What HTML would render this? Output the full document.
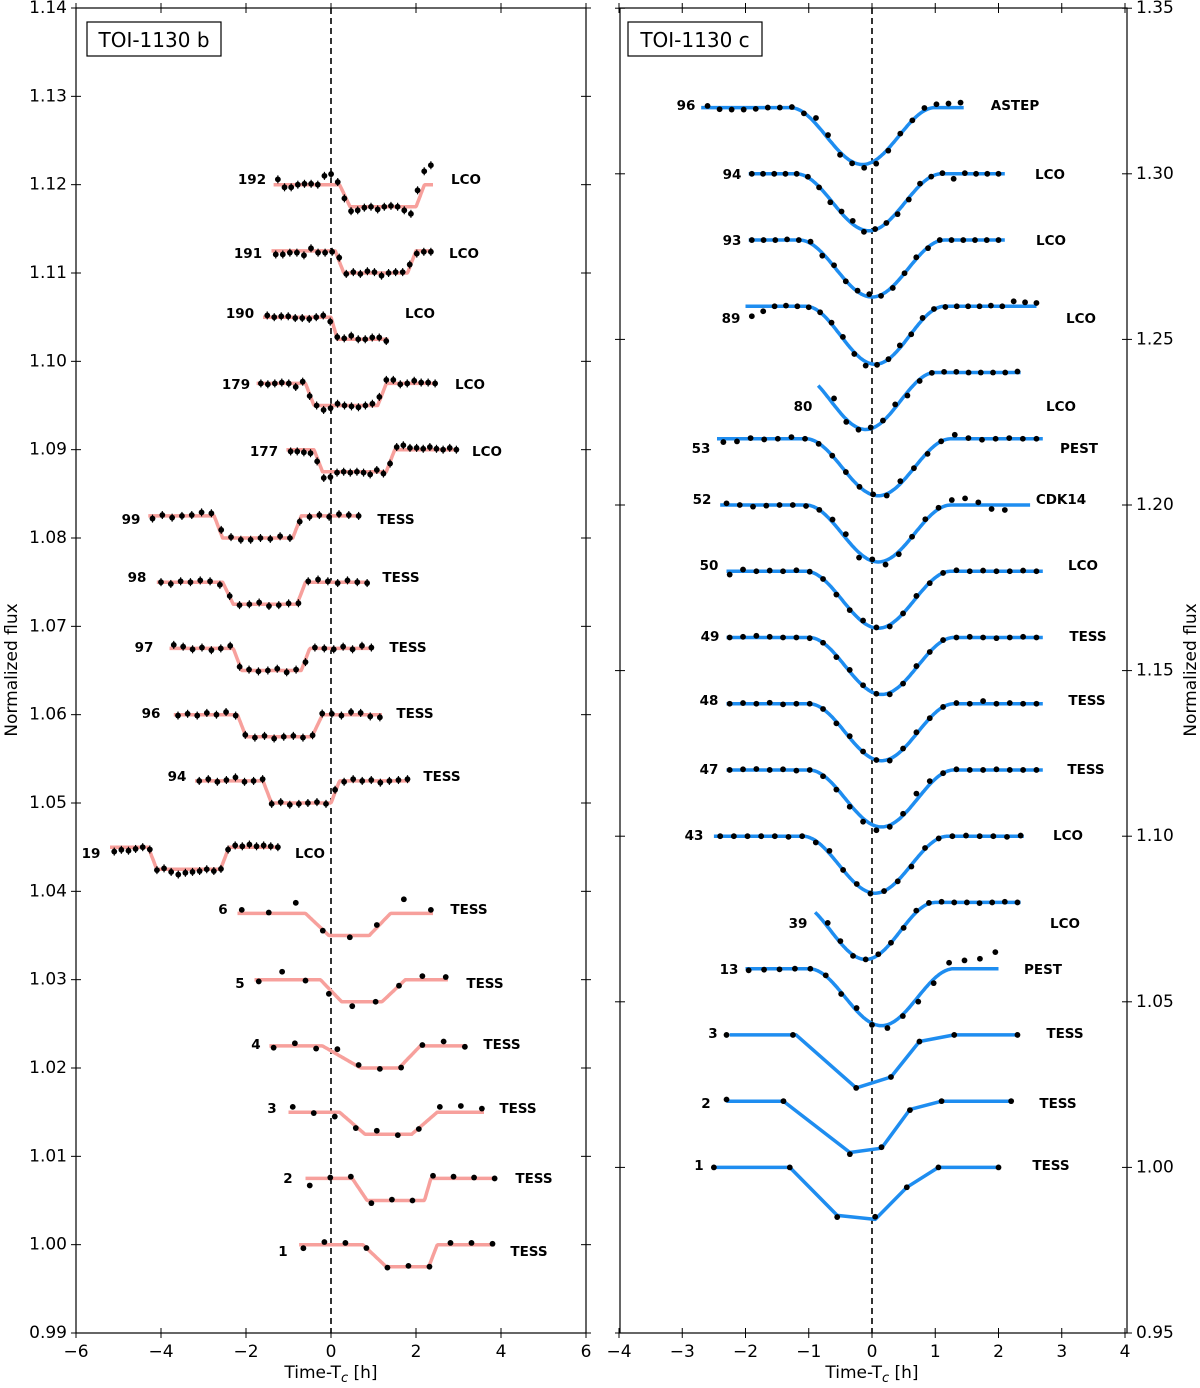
<!DOCTYPE html>
<html><head><meta charset="utf-8">
<style>
html,body{margin:0;padding:0;background:#fff;}
svg{display:block;font-family:"DejaVu Sans","Liberation Sans",sans-serif;}
.tk{font-size:17px;fill:#000;}
.lb{font-size:13.5px;font-weight:bold;fill:#000;}
</style></head>
<body>
<svg id="chart" width="1200" height="1388" viewBox="0 0 1200 1388"></svg>
<script>
// ---- TOI-1130 b data ----
const bEpoch=[192,191,190,179,177,99,98,97,96,94,19,6,5,4,3,2,1];
const bInst=["LCO","LCO","LCO","LCO","LCO","TESS","TESS","TESS","TESS","TESS","LCO","TESS","TESS","TESS","TESS","TESS","TESS"];
const bBase=[1.120,1.1125,1.105,1.0975,1.090,1.0825,1.075,1.0675,1.060,1.0525,1.045,1.0375,1.030,1.0225,1.015,1.0075,1.000];
const bStart=[-1.35,-1.4,-1.6,-1.75,-1.05,-4.3,-4.1,-3.8,-3.7,-3.2,-5.2,-2.2,-1.8,-1.45,-1.0,-0.6,-0.75];
const bEnd=[2.4,2.4,1.35,2.5,3.0,0.7,0.9,1.0,1.2,1.85,-1.2,2.4,2.75,3.2,3.6,3.9,3.85];
const bT1=[0.2,0.1,0.0,-0.6,-0.4,-2.75,-2.55,-2.3,-2.2,-1.6,-4.3,-0.6,-0.25,-0.2,0.2,0.5,0.75];
const bT2=[0.45,0.3,0.15,-0.4,-0.2,-2.55,-2.3,-2.1,-2.0,-1.4,-4.1,-0.05,0.25,0.7,0.8,0.85,1.3];
const bT3=[2.0,1.8,9,1.1,1.3,-0.9,-0.8,-0.7,-0.45,0.0,-2.6,0.9,1.2,1.6,1.9,2.2,2.3];
const bT4=[2.2,2.0,9,1.3,1.5,-0.7,-0.6,-0.5,-0.2,0.2,-2.4,1.4,1.75,2.1,2.5,2.35,2.5];
const bDepth=[0.0025,0.0025,0.0025,0.0025,0.0025,0.0025,0.0025,0.0025,0.0025,0.0025,0.0025,0.0025,0.0025,0.0025,0.0025,0.0025,0.0025];
// residuals in units of 1e-4 flux
const bResid=[
[6,-3,-3,0,1,1,0,10,12,3,-4,-5,-4,-1,0,-3,0,1,0,-4,-8,14,16,22],
[-4,-4,-2,-2,-5,3,-2,-2,-1,4,-1,1,-1,2,1,-3,0,1,1,3,-3,-1,-1],
[2,0,1,1,-1,-1,-2,0,2,-5,2,1,4,0,0,2,2,-2],
[0,-1,0,1,0,-4,2,-2,0,-5,-3,2,0,-1,-2,0,2,5,4,4,-1,0,3,1,1,0],
[-2,-2,-3,-4,-4,-7,-6,-1,0,-1,0,-1,-3,2,-2,-2,3,5,2,2,1,3,1,0,2,0],
[-3,1,-2,0,1,4,3,5,1,-2,-2,0,-1,2,0,-2,-1,1,-1,2,1,0],
[0,-2,1,0,2,1,-3,1,-1,0,2,-2,-1,1,-3,1,3,1,-1,2,0,-1],
[4,2,-1,1,-2,0,3,-2,1,-1,0,2,-2,1,-3,1,0,-1,2,-1,3,1],
[-1,1,-1,2,0,3,-1,0,-1,1,-2,0,1,-1,0,2,1,-1,3,2,-2,-3],
[0,2,-1,1,4,-1,0,2,-1,1,-2,-1,0,1,-1,3,-1,2,0,1,-2,0,1,2],
[-5,-3,-4,-2,0,2,-1,1,-3,-6,-4,-3,-2,0,-2,-1,0,2,1,3,1,2,1,0],
[4,1,12,-1,-2,3,16,4],
[-2,9,-1,-6,-5,0,0,4,3],
[-2,3,-3,6,2,-1,-2,1,5,-1],
[6,-1,-5,-2,4,-1,-1,6,7,4],
[-8,1,2,-3,1,0,3,2,1,0],
[-4,3,2,0,-1,1,-2,2,2,1]];
const bEpochX=[252,248,240,236,264,131,137,144,151,177,91,223,240,256,272,288,283];
const bInstX=[466,464,420,470,487,396,401,408,415,442,310,469,485,502,518,534,529];
const bLabY=[180,254,314,385,452,520,578,648,714,777,854,910,984,1045,1109,1179,1252];

// ---- TOI-1130 c data ----
const cEpoch=[96,94,93,89,80,53,52,50,49,48,47,43,39,13];
const cInst=["ASTEP","LCO","LCO","LCO","LCO","PEST","CDK14","LCO","TESS","TESS","TESS","LCO","LCO","PEST"];
const cBase=[1.32,1.30,1.28,1.26,1.24,1.22,1.20,1.18,1.16,1.14,1.12,1.10,1.08,1.06];
const cStart=[-2.7,-1.95,-1.95,-2.0,-0.85,-2.45,-2.4,-2.3,-2.3,-2.3,-2.3,-2.5,-0.9,-2.0];
const cEnd=[1.45,2.1,2.1,2.6,2.35,2.7,2.5,2.7,2.7,2.7,2.7,2.4,2.35,2.0];
const cDotStart=[-2.6,-1.9,-1.9,-1.9,-0.6,-2.35,-2.3,-2.25,-2.25,-2.25,-2.25,-2.4,-0.7,-1.95];
const cDotEnd=[1.4,2.0,2.0,2.6,2.3,2.6,2.1,2.6,2.6,2.6,2.6,2.35,2.3,1.95];
const cTc=[-0.15,-0.05,0.0,0.05,-0.1,0.1,0.1,0.1,0.15,0.15,0.15,0.05,-0.1,0.15];
const cW=[1.15,1.15,1.15,1.1,1.1,1.15,1.15,1.15,1.15,1.15,1.15,1.15,1.1,1.15];
const cDepth=[0.0172,0.0172,0.0172,0.0175,0.0172,0.0172,0.0172,0.0172,0.0172,0.0172,0.0172,0.0172,0.0172,0.0172];
const cResid=[
[5,-5,-6,-6,-4,0,0,2,-2,18,10,-8,-5,-10,-12,-6,2,0,8,10,12,15],
[0,0,0,0,0,2,-2,-8,5,10,-5,2,0,-8,-5,5,0,2,-15,2,0,0,0],
[0,0,0,2,0,5,-8,4,-2,3,8,-3,-5,0,5,-3,2,0,0,0,0,0],
[-30,-15,0,2,0,-2,0,4,5,-5,-12,-2,0,8,-2,5,2,-2,0,0,0,2,0,15,12,10],
[20,-8,-5,4,2,10,-10,-5,0,2,2,0,0,0,0,3],
[-10,-8,2,-2,0,5,0,-2,0,0,0,2,-5,8,0,-5,0,12,2,-3,0,2,0,0],
[5,0,-5,-2,0,0,-3,0,8,12,-15,5,-12,-8,0,5,4,15,20,8,-12,-15],
[-10,5,0,2,0,3,0,0,-5,-3,5,2,-5,0,5,-2,0,3,0,2,0,0,2,0],
[0,2,5,2,0,0,-2,0,-5,5,2,0,-5,-2,5,0,2,0,2,0,-2,0,2,0],
[0,2,0,3,-2,0,0,0,-5,5,2,0,-5,2,5,0,0,2,0,8,0,2,0,0],
[0,2,3,0,2,-2,0,-3,-5,-8,-10,-12,-5,5,20,10,0,2,0,0,2,0,0,0],
[0,0,0,0,0,-2,0,-5,8,0,2,-3,0,-2,-5,3,0,0,2,0,0,-2,2],
[12,5,-3,0,2,0,-3,5,2,2,0,0,-2,0,2,0],
[-5,-3,-2,0,0,2,-5,8,-5,-10,-5,-15,-12,20,25,30,50]];
const cEpochX=[686,732,732,731,803,701,702,709,710,709,709,694,798,729];
const cEpochY=[106,175,241,319,407,449,500,566,637,701,770,836,924,970];
const cInstX=[1015,1050,1051,1081,1061,1079,1061,1083,1088,1087,1086,1068,1065,1043];
const cInstY=[106,175,241,319,407,449,500,566,637,701,770,836,924,970];
// TESS polyline curves for c (epochs 3,2,1)
const cTessEpoch=[3,2,1];
const cTessBase=[1.04,1.02,1.00];
const cTessT=[[-2.25,-1.2,-0.25,0.3,0.75,1.3,2.3],[-2.3,-1.4,-0.35,0.15,0.6,1.1,2.2],[-2.5,-1.3,-0.55,0.05,0.55,1.05,2.0]];
const cTessF=[[0,0,-0.016,-0.0127,-0.002,0,0],[0,0,-0.0155,-0.0142,-0.0025,0,0],[0,0,-0.0145,-0.0157,-0.006,0,0]];
const cTessDotT=[[-2.3,-1.25,-0.25,0.3,0.75,1.3,2.3],[-2.3,-1.4,-0.35,0.15,0.6,1.1,2.2],[-2.5,-1.3,-0.55,0.05,0.55,1.05,2.0]];
const cTessDotR=[[0,0,0,0,0,0,0],[5,0,-5,3,-2,0,0],[0,0,-5,8,0,0,0]];
const cTessEpochX=[713,706,699];
const cTessLabY=[1034,1104,1166];
const cTessInstX=[1065,1058,1051];

// ---- scales ----
const xL=t=>331+t*42.5, yL=f=>1333-(f-0.99)*8833.3;
const xR=t=>872+t*63.25, yR=f=>1333-(f-0.95)*3312;
const NS="http://www.w3.org/2000/svg";
const svg=document.getElementById('chart');
function mk(tag,attrs,parent){const e=document.createElementNS(NS,tag);for(const k in attrs)e.setAttribute(k,attrs[k]);(parent||svg).appendChild(e);return e;}
function txt(x,y,s,cls,anchor,parent){const e=mk('text',{x:x,y:y,class:cls,'text-anchor':anchor||'middle','dominant-baseline':'central'},parent);e.textContent=s;return e;}

// ---- frames & axes ----
function panel(x0,x1,name){
  const g=mk('g',{});
  
  
  const r=mk('rect',{x:x0,y:8,width:x1-x0,height:1325,fill:'none',stroke:'#000','stroke-width':1.2},g);
  
  
  return g;
}
const gL=panel(76,586,'panel-b');
const gR=panel(620,1127,'panel-c');
for(let i=0;i<=15;i++){const f=0.99+i*0.01,y=yL(f);
  mk('line',{x1:71,x2:81,y1:y,y2:y,stroke:'#000'},gL);mk('line',{x1:581,x2:591,y1:y,y2:y,stroke:'#000'},gL);
  const t=txt(67,y,f.toFixed(2),'tk','end',gL);
  
  }
for(let v=-6;v<=6;v+=2){const x=xL(v);
  mk('line',{x1:x,x2:x,y1:1328,y2:1338,stroke:'#000'},gL);mk('line',{x1:x,x2:x,y1:3,y2:13,stroke:'#000'},gL);
  const t=txt(x,1352,(v<0?'\u2212':'')+Math.abs(v),'tk','middle',gL);
  
  }
for(let i=0;i<=8;i++){const f=0.95+i*0.05,y=yR(f);
  mk('line',{x1:615,x2:625,y1:y,y2:y,stroke:'#000'},gR);mk('line',{x1:1122,x2:1132,y1:y,y2:y,stroke:'#000'},gR);
  const t=txt(1136,y,f.toFixed(2),'tk','start',gR);
  
  }
for(let v=-4;v<=4;v++){const x=xR(v);
  mk('line',{x1:x,x2:x,y1:1328,y2:1338,stroke:'#000'},gR);mk('line',{x1:x,x2:x,y1:3,y2:13,stroke:'#000'},gR);
  const t=txt(x,1352,(v<0?'\u2212':'')+Math.abs(v),'tk','middle',gR);
  
  }
function xtitle(x,name){const t=mk('text',{x:x,y:1378,class:'tk','text-anchor':'middle'});
  t.innerHTML='Time-T<tspan font-style="italic" font-size="13" dy="4">c</tspan><tspan dy="-4"> [h]</tspan>';
  }
xtitle(331,'x-axis-title-left');xtitle(872,'x-axis-title-right');
let yt=mk('text',{x:0,y:0,class:'tk','text-anchor':'middle',transform:'translate(17,670) rotate(-90)'});yt.textContent='Normalized flux';

yt=mk('text',{x:0,y:0,class:'tk','text-anchor':'middle',transform:'translate(1196,670) rotate(-90)'});yt.textContent='Normalized flux';

function tbox(x,s,name){const g=mk('g',{});
  mk('rect',{x:x,y:22,width:134,height:34,fill:'#fff',stroke:'#000','stroke-width':1.2},g);
  const t=txt(x+67,40,s,'tk','middle',g);t.setAttribute('style','font-size:20px');}
tbox(87,'TOI-1130 b','panel-title-b');tbox(628,'TOI-1130 c','panel-title-c');
let d=mk('line',{x1:xL(0),x2:xL(0),y1:8,y2:1333,stroke:'#000','stroke-width':1.6,'stroke-dasharray':'6,4'});

d=mk('line',{x1:xR(0),x2:xR(0),y1:8,y2:1333,stroke:'#000','stroke-width':1.6,'stroke-dasharray':'6,4'});


function trap(i,t){const dp=bDepth[i];
  if(t<=bT1[i]||t>=bT4[i])return 0;
  if(t<bT2[i])return -dp*(t-bT1[i])/(bT2[i]-bT1[i]);
  if(t<=bT3[i])return -dp;
  return -dp*(bT4[i]-t)/(bT4[i]-bT3[i]);}
for(let i=0;i<bEpoch.length;i++){
  const g=mk('g',{});
  
  
  let pts=[];const N=200;
  for(let k=0;k<=N;k++){const t=bStart[i]+(bEnd[i]-bStart[i])*k/N;pts.push(xL(t).toFixed(1)+','+yL(bBase[i]+trap(i,t)).toFixed(1));}
  const pl=mk('polyline',{points:pts.join(' '),fill:'none',stroke:'#f7a09c','stroke-width':3.5,'stroke-linejoin':'round'},g);
  
  
  const r=bResid[i],n=r.length;const s0=bStart[i]+0.1,s1=bEnd[i]-0.05;
  for(let k=0;k<n;k++){const t=s0+(s1-s0)*k/(n-1);const x=xL(t),y=yL(bBase[i]+trap(i,t)+r[k]*1e-4);
    if(n>12)mk('line',{x1:x,x2:x,y1:y-4,y2:y+4,stroke:'#000','stroke-width':1.2},g);
    const c=mk('circle',{cx:x,cy:y,r:2.9,fill:'#000'},g);
    
    }
  const e=txt(bEpochX[i],bLabY[i],String(bEpoch[i]),'lb','middle',g);
  
  const s=txt(bInstX[i],bLabY[i],bInst[i],'lb','middle',g);
  
}
function smooth(i,t){const u=(t-cTc[i])/cW[i];if(Math.abs(u)>=1)return 0;return -cDepth[i]*0.5*(1+Math.cos(Math.PI*u));}
for(let i=0;i<cEpoch.length;i++){
  const g=mk('g',{});
  
  
  let pts=[];const N=200;
  for(let k=0;k<=N;k++){const t=cStart[i]+(cEnd[i]-cStart[i])*k/N;pts.push(xR(t).toFixed(1)+','+yR(cBase[i]+smooth(i,t)).toFixed(1));}
  const pl=mk('polyline',{points:pts.join(' '),fill:'none',stroke:'#1e8df0','stroke-width':3.5,'stroke-linejoin':'round'},g);
  
  
  const r=cResid[i],n=r.length;
  for(let k=0;k<n;k++){const t=cDotStart[i]+(cDotEnd[i]-cDotStart[i])*k/(n-1);const x=xR(t),y=yR(cBase[i]+smooth(i,t)+r[k]*1e-4);
    const c=mk('circle',{cx:x,cy:y,r:2.9,fill:'#000'},g);
    
    }
  const e=txt(cEpochX[i],cEpochY[i],String(cEpoch[i]),'lb','middle',g);
  
  const s=txt(cInstX[i],cInstY[i],cInst[i],'lb','middle',g);
  
}
for(let j=0;j<cTessEpoch.length;j++){
  const g=mk('g',{});
  
  
  const pts=cTessT[j].map((t,k)=>xR(t).toFixed(1)+','+yR(cTessBase[j]+cTessF[j][k]).toFixed(1));
  const pl=mk('polyline',{points:pts.join(' '),fill:'none',stroke:'#1e8df0','stroke-width':3.5,'stroke-linejoin':'round'},g);
  
  
  cTessDotT[j].forEach((t,k)=>{
    const c=mk('circle',{cx:xR(t),cy:yR(cTessBase[j]+cTessF[j][k]+cTessDotR[j][k]*1e-4),r:2.9,fill:'#000'},g);
    
    });
  const e=txt(cTessEpochX[j],cTessLabY[j],String(cTessEpoch[j]),'lb','middle',g);
  
  const s=txt(cTessInstX[j],cTessLabY[j],'TESS','lb','middle',g);
  
}
</script>
</body></html>
